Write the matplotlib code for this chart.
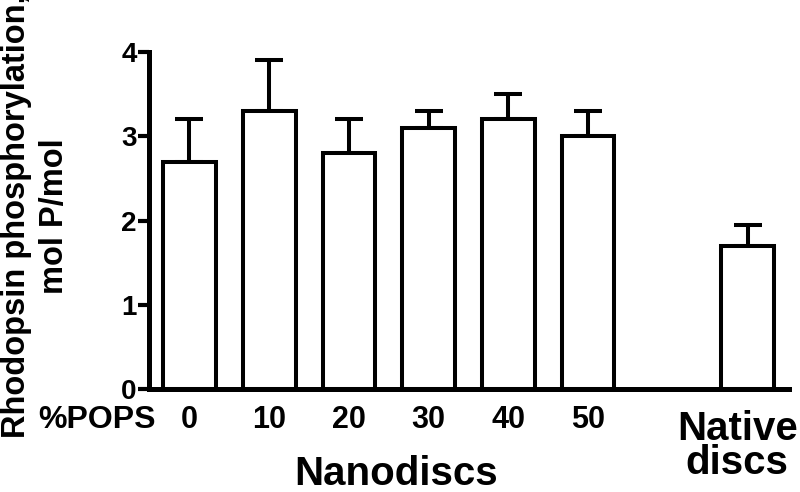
import matplotlib
matplotlib.use("Agg")
import matplotlib.pyplot as plt
import numpy as np

# data
groups = ["0", "10", "20", "30", "40", "50"]
positions = [0, 1, 2, 3, 4, 5]
values = [2.7, 3.3, 2.8, 3.1, 3.2, 3.0]
errors = [0.5, 0.6, 0.4, 0.2, 0.3, 0.3]
native_pos = 7
native_value = 1.7
native_error = 0.25
yticks = [0, 1, 2, 3, 4]

plt.rcParams['font.family'] = ['Liberation Sans', 'DejaVu Sans']
plt.rcParams['font.weight'] = 'bold'

fig = plt.figure(figsize=(8, 4.92), dpi=100)
ax = fig.add_axes([0.18625, 0.2093, 0.8, 0.685])

all_pos = positions + [native_pos]
all_val = values + [native_value]
all_err = errors + [native_error]

ax.bar(all_pos, all_val, width=0.66, color='white', edgecolor='black',
       linewidth=2.9, zorder=2)
ax.errorbar(all_pos, all_val, yerr=[np.zeros(len(all_err)), all_err], fmt='none',
            ecolor='black', elinewidth=2.9, capsize=10, capthick=2.9, zorder=1)

ax.set_xlim(-0.508, 7.52)
ax.set_ylim(0, 4)
ax.set_yticks(yticks)
ax.set_yticklabels([str(v) for v in yticks], fontsize=20, fontweight='bold')
ax.set_xticks(positions)
ax.set_xticklabels(groups, fontsize=22, fontweight='bold')

for s in ['top', 'right']:
    ax.spines[s].set_visible(False)
for s in ['left', 'bottom']:
    ax.spines[s].set_linewidth(3.6)
ax.tick_params(axis='y', length=8, width=3, pad=1, direction='out')
ax.tick_params(axis='x', length=0, pad=11.5)

# label under the native-disc bar
ax.text(native_pos - 0.13, -0.063, "Native\ndiscs", transform=ax.get_xaxis_transform(),
        fontsize=29, fontweight='bold', ha='center', va='top', linespacing=0.87)

fig.text(0.0475, 0.13, "%POPS", fontsize=23, fontweight='bold',
         ha='left', va='baseline')
fig.text(0.495, 0.014, "Nanodiscs", fontsize=29, fontweight='bold',
         ha='center', va='baseline')
fig.text(0.044, 0.56, "Rhodopsin phosphorylation,\nmol P/mol", fontsize=23.5,
         fontweight='bold', rotation=90, ha='center', va='center',
         multialignment='center', linespacing=1.28)

plt.savefig('out.png', dpi=100)
